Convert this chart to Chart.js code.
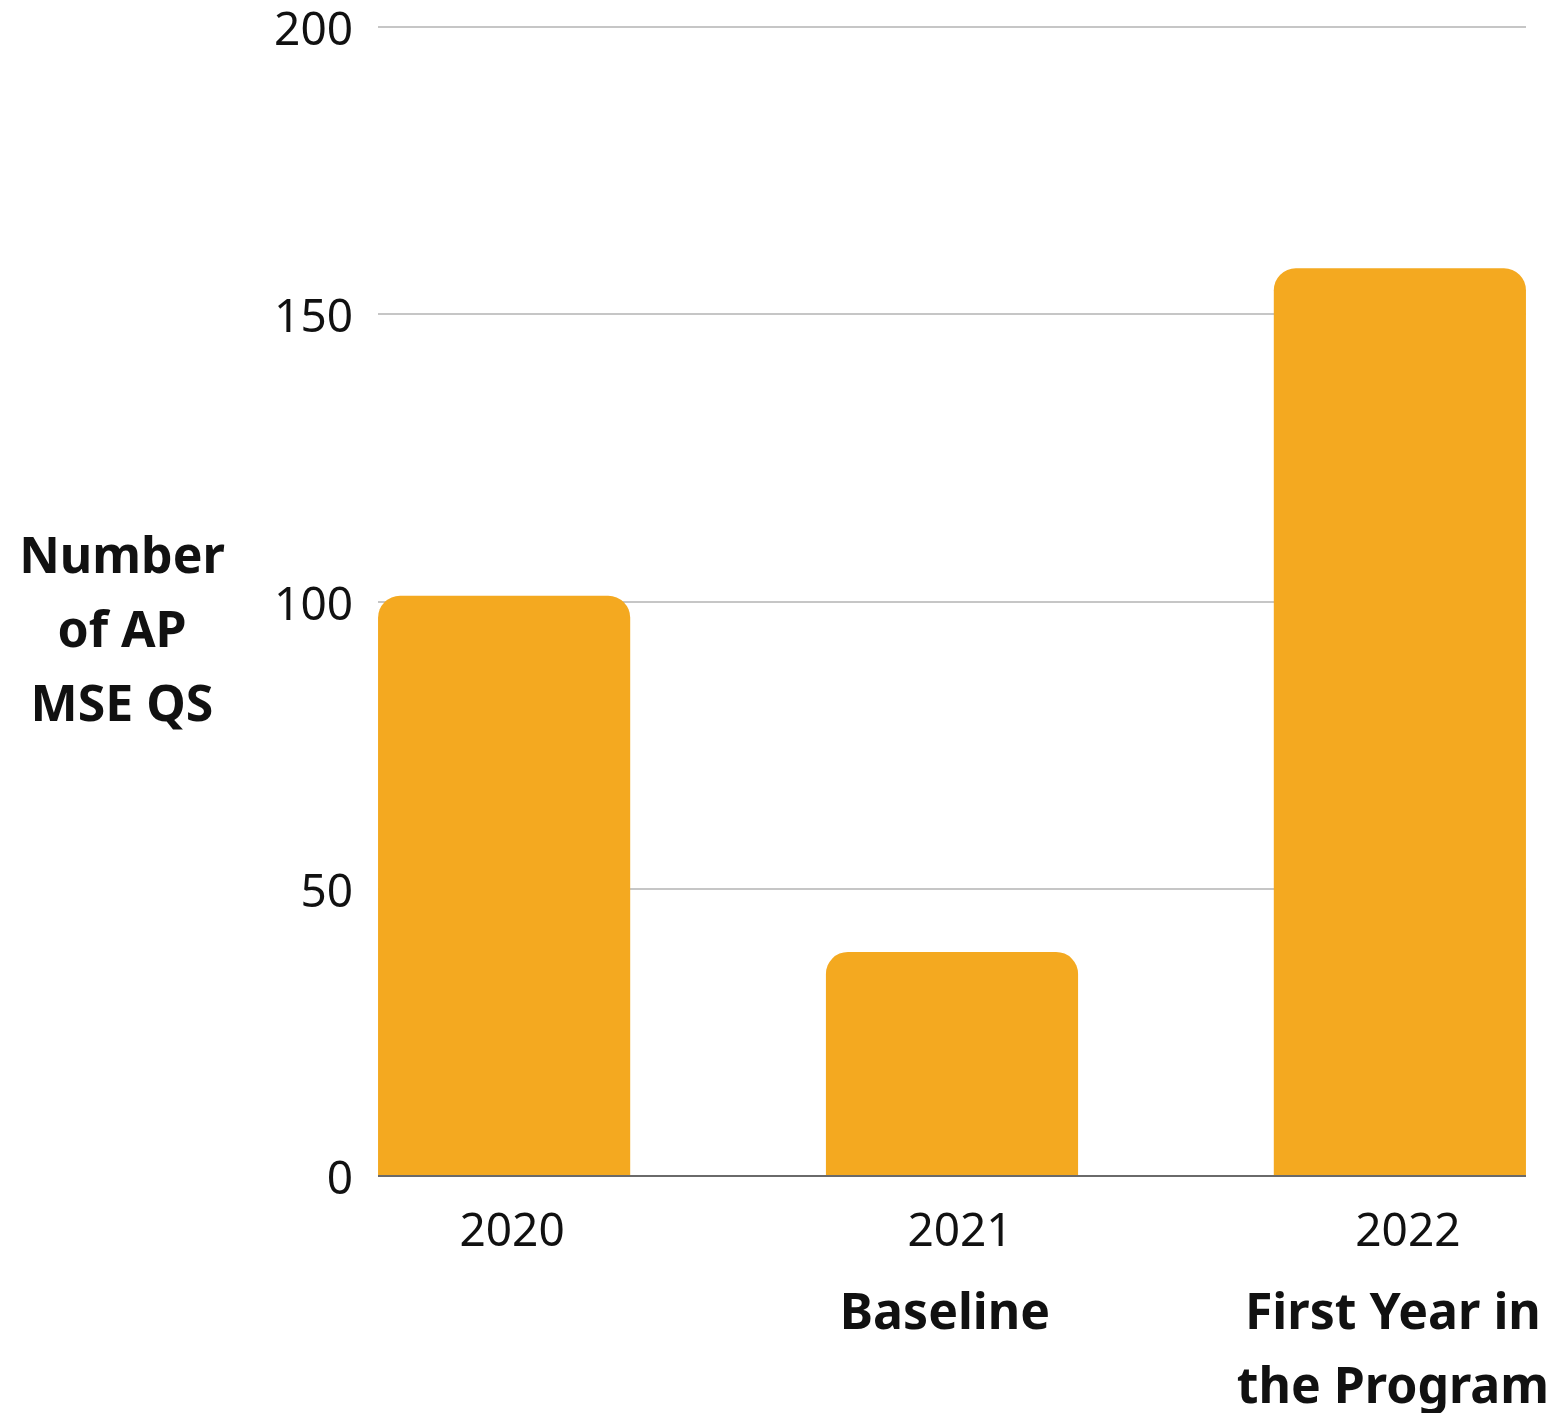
<!DOCTYPE html>
<html>
<head>
<meta charset="utf-8">
<script src="https://cdn.jsdelivr.net/npm/chart.js@4"></script>
<style>
  html, body { margin: 0; padding: 0; background: #fff; }
  #wrap { width: 1555px; height: 1413px; position: relative; }
</style>
</head>
<body>
<div id="wrap"><canvas id="apChart"></canvas></div>
<script>
// Chart data
const years = ['2020', '2021', '2022'];
const subLabels = [[], ['Baseline'], ['First Year in', 'the Program']];
const counts = [101, 39, 158];
const yTicks = [0, 50, 100, 150, 200];
const yTitle = ['Number', 'of AP', 'MSE QS'];

const barColor = '#F4A920';
const textColor = '#111111';

// Draws bold captions under the years and the horizontal y title
const extraText = {
    id: 'extraText',
    afterDraw(chart) {
        const ctx = chart.ctx;
        const xScale = chart.scales.x;
        const area = chart.chartArea;
        ctx.save();
        ctx.fillStyle = textColor;
        ctx.font = 'bold 50px "Noto Sans"';
        ctx.textAlign = 'center';
        ctx.textBaseline = 'middle';

        subLabels.forEach((lines, i) => {
            const x = xScale.getPixelForValue(i) - 7;
            lines.forEach((line, j) => {
                ctx.fillText(line, x, area.bottom + 139 + j * 74);
            });
        });

        // y axis title, horizontal, centred a bit below the middle of the plot
        const midY = (area.top + area.bottom) / 2 + 31;
        yTitle.forEach((line, j) => {
            ctx.fillText(line, 122, midY + (j - 1) * 74);
        });
        ctx.restore();
    }
};

const ctxAp = document.getElementById('apChart').getContext('2d');
const apChart = new Chart(ctxAp, {
    type: 'bar',
    data: {
        datasets: [{
            data: counts.map((v, i) => ({ x: i, y: v })),
            backgroundColor: barColor,
            borderRadius: { topLeft: 22, topRight: 22, bottomLeft: 0, bottomRight: 0 },
            borderSkipped: 'start',
            categoryPercentage: 1.0,
            barPercentage: 0.563
        }]
    },
    options: {
        responsive: true,
        maintainAspectRatio: false,
        animation: false,
        layout: { padding: { top: 27, right: 29, bottom: 0, left: 0 } },
        plugins: {
            legend: { display: false },
            tooltip: { enabled: false }
        },
        scales: {
            x: {
                type: 'linear',
                offset: false,
                min: -0.2816,
                max: 2.2816,
                afterBuildTicks: (scale) => {
                    scale.ticks = years.map((_, i) => ({ value: i }));
                },
                afterFit: (scale) => { scale.height = 237; },
                grid: { display: false, drawTicks: false, offset: false },
                border: { display: false },
                ticks: {
                    callback: (value) => years[value],
                    color: textColor,
                    font: { family: 'Noto Sans', size: 46 },
                    padding: 29,
                    labelOffset: 8,
                    maxRotation: 0
                }
            },
            y: {
                min: 0,
                max: 200,
                afterBuildTicks: (scale) => {
                    scale.ticks = yTicks.map(v => ({ value: v }));
                },
                afterFit: (scale) => {
                    scale.width = 378;
                    scale.paddingTop = 0;
                    scale.paddingBottom = 0;
                },
                grid: {
                    drawTicks: false,
                    color: (c) => (c.tick && c.tick.value === 0 ? '#6a6a6a' : '#c6c6c6'),
                    lineWidth: 2
                },
                border: { display: false },
                ticks: {
                    color: textColor,
                    font: { family: 'Noto Sans', size: 46 },
                    padding: 25,
                    labelOffset: 5
                }
            }
        }
    },
    plugins: [extraText]
});
</script>
</body>
</html>
